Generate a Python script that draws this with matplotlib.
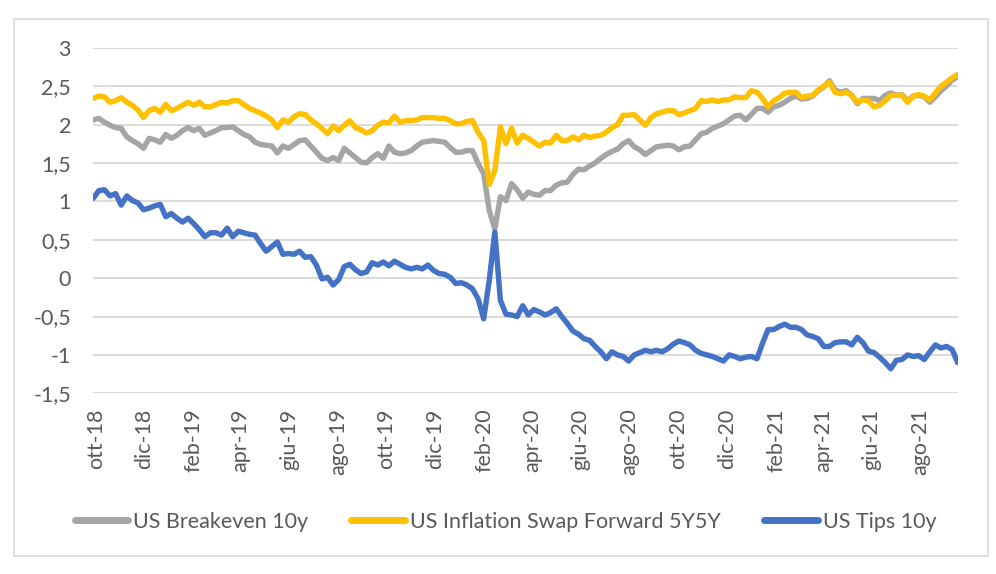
import matplotlib
matplotlib.use('Agg')
import matplotlib.pyplot as plt
import matplotlib.patches as patches
import numpy as np
import pandas as pd

dates = pd.date_range('2018-09-28', periods=156, freq='7D')

breakeven = [
    2.06, 2.08, 2.03, 1.99, 1.96, 1.95, 1.84, 1.79, 1.75, 1.69,
    1.82, 1.80, 1.77, 1.87, 1.82, 1.86, 1.92, 1.96, 1.92, 1.95,
    1.86, 1.89, 1.92, 1.96, 1.96, 1.97, 1.92, 1.87, 1.84, 1.77,
    1.74, 1.73, 1.72, 1.63, 1.72, 1.69, 1.74, 1.79, 1.80, 1.72,
    1.64, 1.56, 1.53, 1.57, 1.53, 1.69, 1.63, 1.57, 1.51, 1.50,
    1.57, 1.62, 1.56, 1.72, 1.64, 1.62, 1.63, 1.66, 1.72, 1.77,
    1.78, 1.79, 1.78, 1.77, 1.70, 1.64, 1.64, 1.66, 1.66, 1.49,
    1.36, 0.88, 0.64, 1.06, 1.01, 1.23, 1.15,
    1.04, 1.12, 1.09, 1.08, 1.14, 1.14, 1.21, 1.24, 1.25, 1.35,
    1.42, 1.41, 1.46, 1.50, 1.56, 1.61, 1.65, 1.68, 1.75, 1.79,
    1.71, 1.67, 1.61, 1.66, 1.71, 1.72, 1.73, 1.72, 1.67, 1.71,
    1.72, 1.80, 1.88, 1.90, 1.95, 1.98, 2.01, 2.06, 2.11, 2.12,
    2.06, 2.13, 2.21, 2.21, 2.16, 2.23, 2.25, 2.29, 2.34, 2.37,
    2.33, 2.34, 2.37, 2.44, 2.49, 2.57, 2.45, 2.42, 2.44, 2.38,
    2.27, 2.34, 2.34, 2.34, 2.31, 2.38, 2.41, 2.38, 2.39, 2.31,
    2.37, 2.38, 2.36, 2.29, 2.36, 2.44, 2.50, 2.58, 2.62,
]

swap_5y5y = [
    2.34, 2.37, 2.36, 2.29, 2.31, 2.35, 2.29, 2.25, 2.19, 2.09,
    2.18, 2.21, 2.16, 2.26, 2.18, 2.21, 2.25, 2.29, 2.25, 2.29,
    2.23, 2.23, 2.26, 2.29, 2.28, 2.31, 2.31, 2.26, 2.21, 2.18,
    2.15, 2.11, 2.06, 1.96, 2.06, 2.03, 2.10, 2.14, 2.13, 2.06,
    2.01, 1.95, 1.88, 1.98, 1.92, 1.99, 2.05, 1.96, 1.93, 1.89,
    1.92, 1.99, 2.03, 2.02, 2.11, 2.03, 2.05, 2.05, 2.06, 2.09,
    2.09, 2.09, 2.08, 2.08, 2.05, 2.01, 2.01, 2.04, 2.05, 1.90,
    1.79, 1.22, 1.40, 1.97, 1.75, 1.95, 1.76,
    1.86, 1.82, 1.77, 1.72, 1.77, 1.76, 1.86, 1.79, 1.79, 1.84,
    1.80, 1.86, 1.83, 1.85, 1.86, 1.90, 1.96, 2.00, 2.12, 2.12,
    2.13, 2.06, 1.99, 2.09, 2.14, 2.16, 2.18, 2.18, 2.13, 2.15,
    2.18, 2.21, 2.31, 2.30, 2.32, 2.30, 2.32, 2.32, 2.36, 2.35,
    2.35, 2.44, 2.42, 2.34, 2.23, 2.31, 2.35, 2.41, 2.42, 2.42,
    2.35, 2.37, 2.38, 2.45, 2.50, 2.55, 2.42, 2.40, 2.42, 2.38,
    2.29, 2.32, 2.31, 2.23, 2.25, 2.31, 2.38, 2.38, 2.38, 2.29,
    2.37, 2.39, 2.37, 2.32, 2.41, 2.50, 2.55, 2.61, 2.65,
]

tips = [
    1.04, 1.14, 1.15, 1.07, 1.10, 0.95, 1.07, 1.01, 0.98, 0.89,
    0.91, 0.94, 0.96, 0.80, 0.84, 0.78, 0.73, 0.78, 0.71, 0.63,
    0.54, 0.59, 0.59, 0.56, 0.65, 0.54, 0.61, 0.59, 0.57, 0.56,
    0.45, 0.35, 0.41, 0.47, 0.31, 0.32, 0.31, 0.35, 0.27, 0.28,
    0.17, -0.01, 0.01, -0.09, -0.02, 0.15, 0.18, 0.11, 0.06, 0.08,
    0.20, 0.17, 0.21, 0.16, 0.22, 0.18, 0.14, 0.12, 0.14, 0.12,
    0.17, 0.10, 0.06, 0.05, 0.01, -0.07, -0.06, -0.09, -0.14, -0.27,
    -0.53, -0.03, 0.60, -0.29, -0.47, -0.48, -0.50,
    -0.36, -0.48, -0.41, -0.44, -0.48, -0.45, -0.40, -0.50, -0.59, -0.69,
    -0.73, -0.79, -0.81, -0.89, -0.96, -1.05, -0.96, -1.00, -1.02, -1.08,
    -1.00, -0.97, -0.94, -0.96, -0.94, -0.96, -0.92, -0.86, -0.82, -0.84,
    -0.87, -0.94, -0.98, -1.00, -1.02, -1.05, -1.08, -1.00, -1.02, -1.05,
    -1.03, -1.02, -1.05, -0.85, -0.67, -0.67, -0.63, -0.60, -0.64, -0.64,
    -0.67, -0.74, -0.76, -0.79, -0.89, -0.89, -0.84, -0.83, -0.83, -0.87,
    -0.77, -0.84, -0.95, -0.97, -1.03, -1.10, -1.18, -1.07, -1.06, -1.00,
    -1.02, -1.01, -1.06, -0.96, -0.87, -0.91, -0.89, -0.93, -1.10,
]

series_names = ['US Breakeven 10y', 'US Inflation Swap Forward 5Y5Y', 'US Tips 10y']
series_colors = ['#A5A5A5', '#FFC000', '#4472C4']

tick_dates = pd.date_range('2018-10-01', '2021-08-01', freq='2MS')
tick_labels = ['ott-18', 'dic-18', 'feb-19', 'apr-19', 'giu-19', 'ago-19',
               'ott-19', 'dic-19', 'feb-20', 'apr-20', 'giu-20', 'ago-20',
               'ott-20', 'dic-20', 'feb-21', 'apr-21', 'giu-21', 'ago-21']
y_ticks = [-1.5, -1, -0.5, 0, 0.5, 1, 1.5, 2, 2.5, 3]

plt.rcParams['font.family'] = ['Lato', 'DejaVu Sans']
text_color = '#595959'

fig = plt.figure(figsize=(9.96, 5.74), dpi=100)
# outer chart frame
fig.patches.append(patches.Rectangle((13.5 / 996, 1 - 556 / 574), 974 / 996, 537 / 574,
                                     transform=fig.transFigure, fill=False,
                                     edgecolor='#D9D9D9', linewidth=1.2))

ax = fig.add_axes([93.3 / 996, 1 - 393.3 / 574, 864.4 / 996, 345.6 / 574])
for vals, name, col in zip([breakeven, swap_5y5y, tips], series_names, series_colors):
    ax.plot(dates, vals, color=col, linewidth=3.9, label=name,
            solid_joinstyle='round', solid_capstyle='round')

ax.set_ylim(-1.5, 3)
ax.set_xlim(dates[0], dates[-1])
ax.set_yticks(y_ticks)
ax.set_yticklabels([('%g' % v).replace('.', ',') for v in y_ticks])
ax.set_xticks(tick_dates)
ax.set_xticklabels(tick_labels, rotation=90)
ax.yaxis.grid(True, color='#D9D9D9', linewidth=1.3)
ax.set_axisbelow(True)
for s in ax.spines.values():
    s.set_visible(False)
ax.tick_params(axis='both', length=0, labelsize=15.5, labelcolor=text_color)
ax.tick_params(axis='y', pad=16)
ax.tick_params(axis='x', pad=11)

leg = fig.legend(loc='center', bbox_to_anchor=(0.5075, 1 - 521.7 / 574), ncol=3,
                 frameon=False, fontsize=15.5, handlelength=2.5, handletextpad=0.23,
                 columnspacing=2.0)
for t in leg.get_texts():
    t.set_color(text_color)
for h in leg.get_lines():
    h.set_linewidth(5)
    h.set_solid_capstyle('round')

fig.savefig('out.png', dpi=100)
